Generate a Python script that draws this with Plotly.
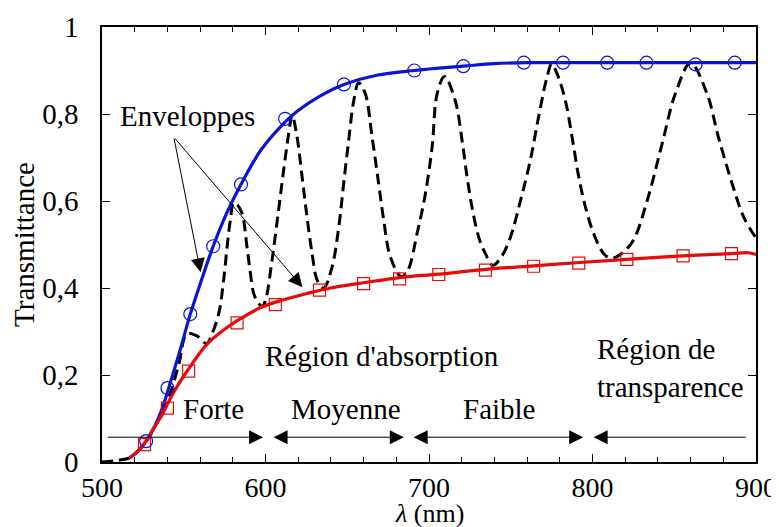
import plotly.graph_objects as go

# courbe de transmittance mesuree (pointilles)
lam_t = [500, 510, 518, 527, 535, 541, 547, 552, 558, 564, 567.3, 571.4, 574.4, 576.5, 578.5, 580.5,
         583, 585.7, 588.7, 590.8, 592.8, 595.8, 598, 600, 604, 608, 611.1, 614.2, 616.3, 619.3,
         622.4, 625.4, 628.5, 631.6, 635.6, 640.7, 644.8, 647.8, 650.9, 654, 657, 661, 665.2,
         669.2, 672.3, 676.4, 683, 687, 692.7, 697.8, 701.9, 705, 709.5, 716, 720.2, 723.3,
         726.3, 730.4, 734.5, 739, 744, 749.8, 755.9, 762, 767, 772.2, 775, 778.3, 783.4,
         787.5, 791.6, 795.7, 800.7, 806.9, 811.5, 818, 825, 833.4, 842.6, 850.7, 860, 870,
         877, 885.4, 892.5, 900]
T_mes = [0.000, 0.004, 0.012, 0.048, 0.100, 0.150, 0.225, 0.295, 0.290, 0.272, 0.295, 0.341, 0.418,
         0.494, 0.556, 0.596, 0.590, 0.571, 0.494, 0.433, 0.387, 0.364, 0.358, 0.372, 0.464,
         0.579, 0.671, 0.755, 0.797, 0.747, 0.655, 0.563, 0.479, 0.418, 0.400, 0.448, 0.540,
         0.640, 0.740, 0.831, 0.872, 0.847, 0.747, 0.640, 0.556, 0.471, 0.426, 0.440, 0.525,
         0.617, 0.724, 0.847, 0.886, 0.831, 0.740, 0.655, 0.586, 0.517, 0.479, 0.452, 0.470,
         0.517, 0.600, 0.694, 0.793, 0.885, 0.915, 0.893, 0.831, 0.747, 0.655, 0.586, 0.525,
         0.479, 0.468, 0.480, 0.510, 0.600, 0.732, 0.847, 0.917, 0.847, 0.747, 0.640, 0.563,
         0.515]

# enveloppe superieure TM
lam_max = [517, 522, 527, 532, 537, 542, 548, 554, 561, 568, 576, 585, 597, 609, 620, 636, 648,
           668, 691, 721, 740, 760, 800, 850, 900]
T_max = [0.010, 0.025, 0.048, 0.080, 0.125, 0.185, 0.260, 0.340, 0.420, 0.496, 0.570, 0.638,
         0.716, 0.770, 0.808, 0.847, 0.868, 0.889, 0.900, 0.910, 0.916, 0.918, 0.918, 0.918, 0.918]
lam_max_pts = [527, 540, 554, 568, 585, 612, 648, 691, 721, 758, 782, 809, 833, 863, 887]
T_max_pts = [0.048, 0.170, 0.340, 0.496, 0.638, 0.789, 0.868, 0.900, 0.910, 0.918, 0.918,
             0.918, 0.918, 0.914, 0.918]

# enveloppe inferieure Tm
lam_min = [517, 522, 527, 532, 537, 541, 547, 555, 564, 575, 585, 597, 610, 625, 640, 660, 682,
           706, 735, 764, 790, 821, 855, 885, 895, 900]
T_min = [0.010, 0.025, 0.048, 0.080, 0.110, 0.140, 0.180, 0.225, 0.270, 0.305, 0.330, 0.355,
         0.372, 0.387, 0.400, 0.412, 0.424, 0.432, 0.443, 0.451, 0.458, 0.466, 0.474, 0.479,
         0.481, 0.477]
lam_min_pts = [526, 540, 553, 582.6, 606, 633, 660, 682, 706, 734.5, 764, 791.6, 821, 855.4, 885]
T_min_pts = [0.040, 0.124, 0.209, 0.320, 0.362, 0.395, 0.410, 0.421, 0.431, 0.441, 0.450,
             0.457, 0.466, 0.474, 0.479]

x_ticks = [500, 600, 700, 800, 900]
y_ticks = [0, 0.2, 0.4, 0.6, 0.8, 1]
y_labels = ["0", "0,2", "0,4", "0,6", "0,8", "1"]

BLEU = "#0a14d2"
ROUGE = "#e60a0a"
FONT = "Liberation Serif"
FS = 29

fig = go.Figure()
fig.add_trace(go.Scatter(x=lam_t, y=T_mes, mode="lines", line_shape="spline",
                         line=dict(color="black", width=3, dash="11px,6px")))
fig.add_trace(go.Scatter(x=lam_max, y=T_max, mode="lines", line_shape="spline",
                         line=dict(color=BLEU, width=3.2)))
fig.add_trace(go.Scatter(x=lam_min, y=T_min, mode="lines", line_shape="spline",
                         line=dict(color=ROUGE, width=3.2)))
fig.add_trace(go.Scatter(x=lam_max_pts, y=T_max_pts, mode="markers",
                         marker=dict(symbol="circle-open", size=13, color=BLEU, line=dict(width=1.2))))
fig.add_trace(go.Scatter(x=lam_min_pts, y=T_min_pts, mode="markers",
                         marker=dict(symbol="square-open", size=12, color=ROUGE, line=dict(width=1.2))))

# fleches et textes
ann = []
for hx, hy in [(560.3, 0.436), (622.6, 0.402)]:
    ann.append(dict(x=hx, y=hy, ax=543.9, ay=0.747, axref="x", ayref="y", xref="x", yref="y",
                    text="", showarrow=True, arrowhead=2, arrowsize=2.8, arrowwidth=1,
                    arrowcolor="black"))
y_fl = 0.057
for x0, x1, side in [(502.7, 598.5, "end"), (604, 684.6, "end+start"),
                     (689.7, 794.3, "end+start"), (894.6, 800.7, "end")]:
    ann.append(dict(x=x1, y=y_fl, ax=x0, ay=y_fl, axref="x", ayref="y", xref="x", yref="y",
                    text="", showarrow=True, arrowhead=2, arrowsize=2.8, arrowwidth=1,
                    arrowside=side, arrowcolor="black", standoff=0, startstandoff=0))
textes = [("Enveloppes", 552, 0.795, "center"), ("Forte", 568, 0.123, "center"),
          ("Moyenne", 649.5, 0.123, "center"), ("Faible", 743, 0.123, "center"),
          ("Région d'absorption", 671, 0.243, "center"),
          ("Région de<br>transparence", 801.5, 0.217, "left")]
for t, x, y, xa in textes:
    ann.append(dict(x=x, y=y, xref="x", yref="y", text=t, showarrow=False, xanchor=xa,
                    align="left", font=dict(family=FONT, size=FS, color="black")))
# titre de l'axe x (place a la main pour ne pas etre coupe)
ann.append(dict(x=0.5, y=-0.119, xref="paper", yref="paper", text="<i>λ</i> (nm)",
                showarrow=False, xanchor="center", yanchor="middle",
                font=dict(family=FONT, size=26, color="black")))

# la page html ajoute une marge de 8 px autour de la figure
fig.update_layout(
    width=771, height=519, margin=dict(l=94, r=23, t=19, b=65),
    paper_bgcolor="white", plot_bgcolor="white", showlegend=False,
    font=dict(family=FONT, size=FS, color="black"),
    annotations=ann,
)
fig.update_xaxes(range=[500, 900], tickvals=x_ticks, ticks="inside", ticklen=8, tickwidth=1,
                 tickcolor="black", showline=True, linecolor="black", linewidth=1.5,
                 mirror="ticks", showgrid=False, zeroline=False, ticklabelstandoff=0,
                 automargin=False, tickfont=dict(family=FONT, size=28),
                 minor=dict(dtick=20, ticks="inside", ticklen=5, tickcolor="black", showgrid=False))
fig.update_yaxes(range=[0, 1], tickvals=y_ticks, ticktext=y_labels, ticks="inside", ticklen=8,
                 tickwidth=1, tickcolor="black", showline=True, linecolor="black", linewidth=1.5,
                 mirror="ticks", showgrid=False, zeroline=False, ticklabelstandoff=16,
                 automargin=False, tickfont=dict(family=FONT, size=FS),
                 title=dict(text="Transmittance", standoff=5, font=dict(family=FONT, size=FS)))

fig.write_html("out.html")
